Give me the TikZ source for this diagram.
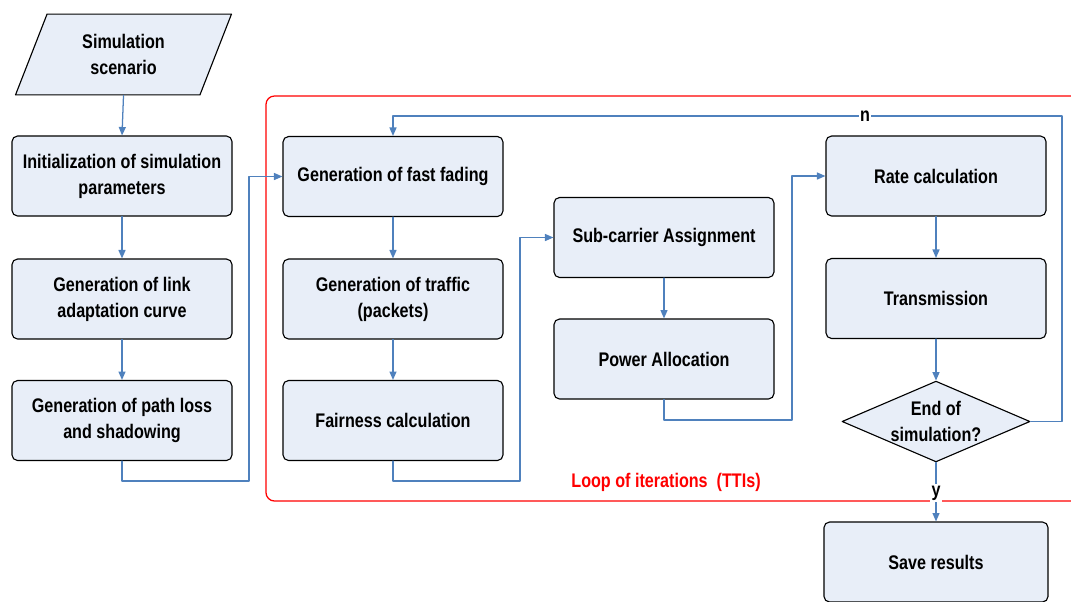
\documentclass[tikz,border=0pt]{standalone}
\usepackage{fontspec}
\setmainfont{Liberation Sans}[FakeStretch=0.82]
\usetikzlibrary{arrows.meta}
\usetikzlibrary{shapes.geometric}

\definecolor{boxfill}{HTML}{E8EEF8}
\definecolor{flowblue}{HTML}{4F81BD}
\definecolor{loopred}{HTML}{FF0000}

\begin{document}
\begin{tikzpicture}[x=0.025cm, y=-0.025cm, line cap=round, line join=round,
		font=\fontsize{14}{18.4}\selectfont\bfseries,
		proc/.style={draw, line width=0.8pt, rounded corners=4pt, fill=boxfill, minimum width=5.5cm, minimum height=2cm, align=center, inner sep=2pt},
		io/.style={draw, line width=0.8pt, fill=boxfill, trapezium, trapezium left angle=67.8, trapezium right angle=112.2, trapezium stretches=true, minimum width=5.43cm, minimum height=2.02cm, align=center, inner sep=1pt},
		decide/.style={draw, line width=0.8pt, fill=boxfill, diamond, aspect=2.32, inner xsep=-0.6cm, inner ysep=-0.2cm, minimum width=4.7cm, minimum height=2.02cm, align=center},
		flow/.style={draw=flowblue, line width=0.9pt, -{Triangle[length=6pt,width=5pt]}},
		tag/.style={fill=white, inner sep=1pt}]
			\clip (0,0) rectangle (1071,601);
			% loop frame
			\draw [loopred, line width=0.9pt, rounded corners=6pt] (266,96) rectangle (1095,501);
			\node (looptxt) [text=loopred] at (666,482) {Loop of iterations~~(TTIs)};
			% first column
			\node (scen) [io] at (123.5,54.5) {Simulation\\scenario};
			\node (init) [proc] at (122,176) {Initialization of simulation\\parameters};
			\node (link) [proc] at (122,299) {Generation of link\\adaptation curve};
			\node (path) [proc] at (122,420.5) {Generation of path loss\\and shadowing};
			% second column
			\node (fade) [proc] at (393,176.5) {Generation of fast fading};
			\node (traf) [proc] at (393,299) {Generation of traffic\\(packets)};
			\node (fair) [proc] at (393,420.5) {Fairness calculation};
			% third column
			\node (sub) [proc] at (664,237.5) {Sub-carrier Assignment};
			\node (power) [proc] at (664,359) {Power Allocation};
			% fourth column
			\node (rate) [proc] at (936,176) {Rate calculation};
			\node (trans) [proc] at (936,298.5) {Transmission};
			\node (dec) [decide] at (936,421.5) {End of\\simulation?};
			\node (save) [proc, minimum width=5.6cm] at (936,562) {Save results};
			% connectors
			\draw [flow] (scen.south) -- (init.north);
			\draw [flow] (init) -- (link);
			\draw [flow] (link) -- (path);
			\draw [flow] (path.south) |- (249,481) |- (fade.west);
			\draw [flow] (fade) -- (traf);
			\draw [flow] (traf) -- (fair);
			\draw [flow] (fair.south) |- (520,481) |- (sub.west);
			\draw [flow] (sub) -- (power);
			\draw [flow] (power.south) |- (792,420) |- (rate.west);
			\draw [flow] (rate) -- (trans);
			\draw [flow] (trans) -- (dec);
			\draw [flow] (dec.east) -| (1062,116) -| (fade.north);
			\draw [flow] (dec.south) -- (save.north);
			% answers
			\node (no) [tag] at (865,116) {n};
			\node (yes) [tag] at (936,493) {y};
		\end{tikzpicture}
\end{document}
